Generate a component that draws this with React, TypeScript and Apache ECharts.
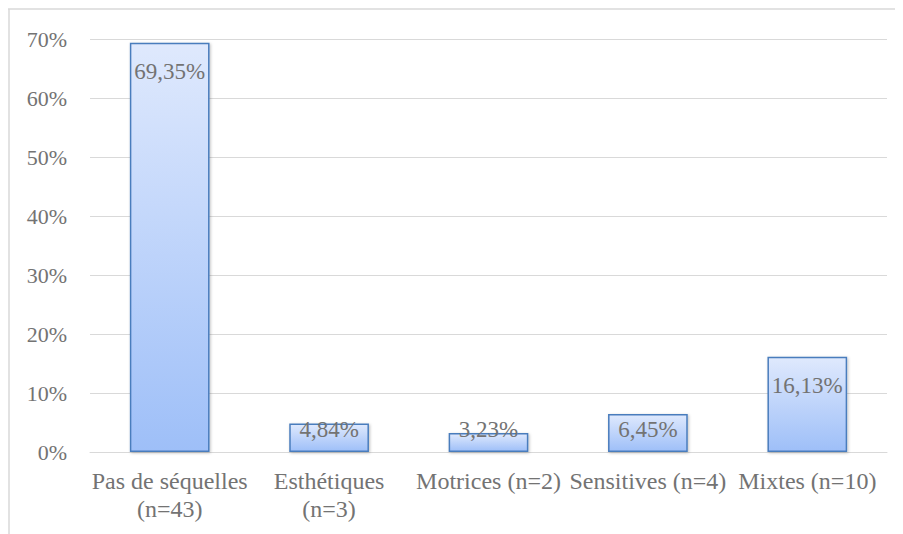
import React, { useEffect, useRef } from "react";
import * as echarts from "echarts";

const categories = [
  "Pas de séquelles\n(n=43)",
  "Esthétiques\n(n=3)",
  "Motrices (n=2)",
  "Sensitives (n=4)",
  "Mixtes (n=10)",
];
const values = [69.35, 4.84, 3.23, 6.45, 16.13];
const yTicks = { min: 0, max: 70, interval: 10 };

const TEXT = "#737373";
const FONT = "'Liberation Serif', 'Times New Roman', serif";

export default function App() {
  const ref = useRef<HTMLDivElement>(null);
  useEffect(() => {
    if (!ref.current) return;
    const chart = echarts.init(ref.current, undefined, { renderer: "svg" });
    chart.setOption({
      animation: false,
      backgroundColor: "#ffffff",
      grid: { left: 82, right: 16, top: 31, bottom: 82, containLabel: false },
      graphic: [
        { type: "line", shape: { x1: 0, y1: 1, x2: 900, y2: 1 }, style: { stroke: "#d9d9d9", lineWidth: 1.5 } },
        { type: "line", shape: { x1: 1, y1: 1, x2: 1, y2: 530 }, style: { stroke: "#d9d9d9", lineWidth: 1.5 } },
      ],
      xAxis: {
        type: "category",
        data: categories,
        axisLine: { show: true, lineStyle: { color: "#d9d9d9", width: 1 } },
        axisTick: { show: false },
        axisLabel: {
          color: TEXT,
          fontFamily: FONT,
          fontSize: 24,
          lineHeight: 28,
          margin: 15,
          interval: 0,
        },
      },
      yAxis: {
        type: "value",
        min: yTicks.min,
        max: yTicks.max,
        interval: yTicks.interval,
        axisLine: { show: false },
        axisTick: { show: false },
        splitLine: { lineStyle: { color: "#d9d9d9", width: 1 } },
        axisLabel: {
          color: TEXT,
          fontFamily: FONT,
          fontSize: 22,
          margin: 23,
          formatter: "{value}%",
        },
      },
      series: [
        {
          type: "bar",
          barWidth: "50%",
          data: values.map((v) => ({
            value: v,
            label:
              v > 10
                ? { position: "insideTop", distance: 17 }
                : { position: "insideBottom", distance: 11 },
          })),
          itemStyle: {
            color: new echarts.graphic.LinearGradient(0, 0, 0, 1, [
              { offset: 0, color: "#dfe9fd" },
              { offset: 1, color: "#9ebff8" },
            ]),
            borderColor: "#4a7dbd",
            borderWidth: 1.5,
            shadowColor: "rgba(0,0,0,0.25)",
            shadowBlur: 3,
            shadowOffsetX: 1,
            shadowOffsetY: 1,
          },
          label: {
            show: true,
            color: TEXT,
            fontFamily: FONT,
            fontSize: 23,
            formatter: (p: any) => p.value.toFixed(2).replace(".", ",") + "%",
          },
        },
      ],
    });
    return () => chart.dispose();
  }, []);
  return <div ref={ref} style={{ width: 895, height: 526 }} />;
}
